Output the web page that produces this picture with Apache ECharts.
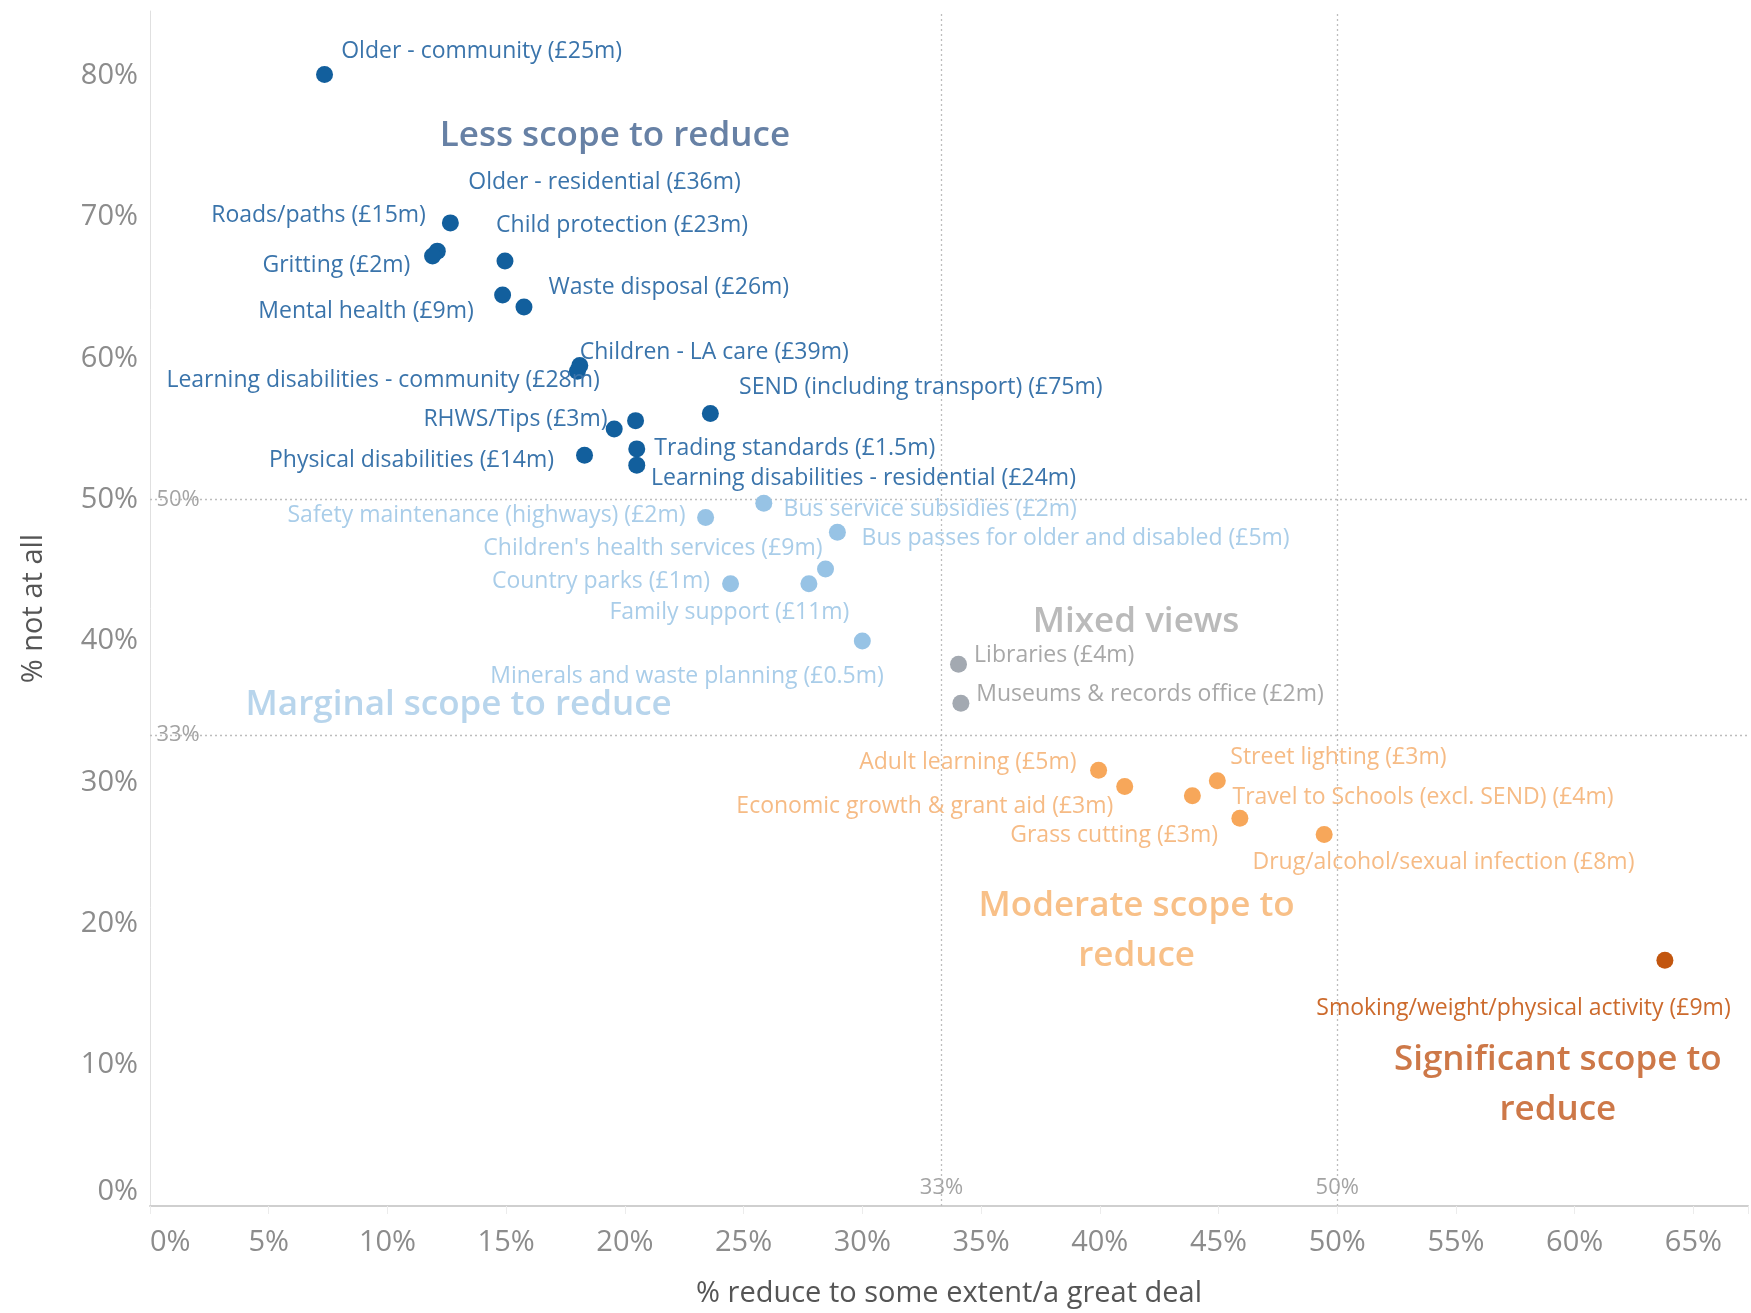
<!DOCTYPE html>
<html>
<head>
<meta charset="utf-8">
<script src="https://cdn.jsdelivr.net/npm/echarts/dist/echarts.min.js"></script>
<style>
html,body{margin:0;padding:0;background:#fff;}
#chart{width:1751px;height:1313px;}
</style>
</head>
<body>
<div id="chart"></div>
<script>
// ---------------- DATA ----------------
// Less scope to reduce (dark blue)
const lessNames = ['Older - community (£25m)', 'Older - residential (£36m)', 'Roads/paths (£15m)', 'Child protection (£23m)',
  'Gritting (£2m)', 'Waste disposal (£26m)', 'Mental health (£9m)', 'Children - LA care (£39m)',
  'Learning disabilities - community (£28m)', 'SEND (including transport) (£75m)', 'RHWS/Tips (£3m)', '',
  'Trading standards (£1.5m)', 'Physical disabilities (£14m)', 'Learning disabilities - residential (£24m)'];
const lessX = [7.35, 12.1, 12.65, 14.95, 11.9, 15.75, 14.85, 18.1, 18.0, 23.6, 19.55, 20.45, 20.5, 18.3, 20.5];
const lessY = [80.1, 67.6, 69.6, 66.9, 67.25, 63.65, 64.5, 59.5, 59.1, 56.1, 55.0, 55.6, 53.6, 53.15, 52.45];

// Marginal scope to reduce (light blue)
const margNames = ['Safety maintenance (highways) (£2m)', 'Bus service subsidies (£2m)', "Children's health services (£9m)",
  'Bus passes for older and disabled (£5m)', 'Country parks (£1m)', 'Family support (£11m)', 'Minerals and waste planning (£0.5m)'];
const margX = [23.4, 25.85, 28.45, 28.95, 24.45, 27.75, 30.0];
const margY = [48.75, 49.75, 45.1, 47.7, 44.05, 44.05, 40.0];

// Mixed views (grey)
const mixNames = ['Libraries (£4m)', 'Museums & records office (£2m)'];
const mixX = [34.05, 34.15];
const mixY = [38.35, 35.6];

// Moderate scope to reduce (orange)
const modNames = ['Adult learning (£5m)', 'Economic growth & grant aid (£3m)', 'Street lighting (£3m)',
  'Travel to Schools (excl. SEND) (£4m)', 'Grass cutting (£3m)', 'Drug/alcohol/sexual infection (£8m)'];
const modX = [39.95, 41.05, 44.95, 45.9, 43.9, 49.45];
const modY = [30.85, 29.7, 30.1, 27.45, 29.05, 26.3];

// Significant scope to reduce (dark orange)
const sigNames = ['Smoking/weight/physical activity (£9m)'];
const sigX = [63.8];
const sigY = [17.4];

// Group annotations
const annoText = ['Less scope to reduce', 'Marginal scope to reduce', 'Mixed views', 'Moderate scope to\nreduce', 'Significant scope to\nreduce'];
const annoX = [19.58, 13.0, 41.53, 41.55, 59.29];
const annoY = [75.78, 35.44, 41.36, 19.5, 8.57];

// Reference lines
const refLines = [33.333, 50];
const refLabels = ['33%', '50%'];

// Axis ticks
const xTickStep = 5;
const yTickStep = 10;

// ---------------- LAYOUT (label placement, px) ----------------
const labelLayout = {
  'Older - community (£25m)': ['left', 16.7, -23.4],
  'Older - residential (£36m)': ['left', 31, -68.8],
  'Roads/paths (£15m)': ['right', -24.5, -7],
  'Child protection (£23m)': ['left', -8.9, -35.1],
  'Gritting (£2m)': ['right', -22.2, 8.9],
  'Waste disposal (£26m)': ['left', 24.5, -19.9],
  'Mental health (£9m)': ['right', -28.8, 16.8],
  'Children - LA care (£39m)': ['left', 0, -13],
  'Learning disabilities - community (£28m)': ['right', 22.4, 9.4],
  'SEND (including transport) (£75m)': ['left', 28.7, -26.4],
  'RHWS/Tips (£3m)': ['right', -6.7, -9.6],
  'Trading standards (£1.5m)': ['left', 17.6, 0],
  'Physical disabilities (£14m)': ['right', -30.5, 5.5],
  'Learning disabilities - residential (£24m)': ['left', 14.2, 13.4],
  'Safety maintenance (highways) (£2m)': ['right', -20.1, -2.2],
  'Bus service subsidies (£2m)': ['left', 19.8, 6.4],
  "Children's health services (£9m)": ['right', -3, -20.5],
  'Bus passes for older and disabled (£5m)': ['left', 24.2, 6.4],
  'Country parks (£1m)': ['right', -20.6, -1.9],
  'Family support (£11m)': ['right', 40.5, 28.3],
  'Minerals and waste planning (£0.5m)': ['right', 21.5, 35.7],
  'Libraries (£4m)': ['left', 15.6, -9],
  'Museums & records office (£2m)': ['left', 15.4, -8.9],
  'Adult learning (£5m)': ['right', -22.1, -8.1],
  'Economic growth & grant aid (£3m)': ['right', -11.4, 20.3],
  'Street lighting (£3m)': ['left', 13, -23.2],
  'Travel to Schools (excl. SEND) (£4m)': ['left', -7.4, -20.6],
  'Grass cutting (£3m)': ['right', 25.7, 40],
  'Drug/alcohol/sexual infection (£8m)': ['left', -71.7, 27.8],
  'Smoking/weight/physical activity (£9m)': ['right', 65.8, 47.9]
};

const FONT = 'Open Sans';
const SYM = 17;
const annoColors = ['#41628f', '#a6cae7', '#a9a9a9', '#f6b06a', '#c0561a'];

function pointSeries(names, xs, ys, dotColor, textColor) {
  return {
    type: 'scatter',
    symbolSize: SYM,
    z: 5,
    itemStyle: { color: dotColor, opacity: 1 },
    emphasis: { disabled: true },
    label: { show: true, formatter: '{b}', color: textColor, fontSize: 23, fontFamily: FONT },
    data: names.map(function (n, i) {
      const lay = labelLayout[n];
      return {
        name: n,
        value: [xs[i], ys[i]],
        label: lay ? { show: true, position: [SYM / 2 + lay[1], SYM / 2 + lay[2]], align: lay[0], verticalAlign: 'middle' } : { show: false }
      };
    })
  };
}

function tickFmt(step) {
  return function (v) {
    const r = v / step;
    return Math.abs(r - Math.round(r)) < 1e-6 ? Math.round(v) + '%' : '';
  };
}

const chart = echarts.init(document.getElementById('chart'), null, { renderer: 'canvas' });

const option = {
  animation: false,
  backgroundColor: '#ffffff',
  grid: { left: 150, right: 0, top: 11, bottom: 102 },
  xAxis: {
    type: 'value', min: 0, max: 67.3, interval: xTickStep,
    axisLine: { show: true, lineStyle: { color: '#cfcfcf', width: 2 } },
    axisTick: { show: true, length: 8, lineStyle: { color: '#ececec' } },
    splitLine: { show: false },
    axisLabel: { formatter: tickFmt(xTickStep), color: '#8c8c8c', fontSize: 29, fontFamily: FONT, margin: 22, alignMinLabel: 'left' },
    name: '% reduce to some extent/a great deal', nameLocation: 'middle', nameGap: 73,
    nameTextStyle: { color: '#555555', fontSize: 29, fontFamily: FONT }
  },
  yAxis: {
    type: 'value', min: 0, max: 84.6, interval: yTickStep,
    axisLine: { show: true, lineStyle: { color: '#e0e0e0', width: 1 } },
    axisTick: { show: false },
    splitLine: { show: false },
    axisLabel: { formatter: tickFmt(yTickStep), color: '#8c8c8c', fontSize: 29, fontFamily: FONT, margin: 12, verticalAlignMinLabel: 'bottom' },
    name: '% not at all', nameLocation: 'middle', nameGap: 102,
    nameTextStyle: { color: '#555555', fontSize: 29, fontFamily: FONT }
  },
  series: [
    {
      type: 'scatter', data: [], silent: true,
      markLine: {
        silent: true, symbol: 'none', animation: false,
        lineStyle: { type: [2, 3], color: '#bdbdbd', width: 1.3 },
        label: { show: false },
        data: refLines.map(function (v) { return { xAxis: v }; }).concat(refLines.map(function (v) { return { yAxis: v }; }))
      }
    },
    {
      type: 'scatter', silent: true, symbolSize: 0, z: 4,
      itemStyle: { color: 'transparent' },
      label: { show: true, formatter: '{b}', color: '#8c8c8c', fontSize: 22, fontFamily: FONT, position: 'inside', verticalAlign: 'middle' },
      data: refLines.map(function (v, i) { return { name: refLabels[i], value: [0.27, v], label: { align: 'left', backgroundColor: '#ffffff', padding: [0, 3, 0, 0] } }; })
        .concat(refLines.map(function (v, i) { return { name: refLabels[i], value: [v, 1.26], label: { align: 'center' } }; }))
    },
    pointSeries(lessNames, lessX, lessY, '#125f9d', '#3a74ab'),
    pointSeries(margNames, margX, margY, '#97c3e5', '#a9cde9'),
    pointSeries(mixNames, mixX, mixY, '#a3a9b1', '#a8a8a8'),
    pointSeries(modNames, modX, modY, '#f7a75a', '#f6bb85'),
    pointSeries(sigNames, sigX, sigY, '#c2560f', '#cc6a2c'),
    {
      type: 'scatter', silent: true, symbolSize: 0, z: 6,
      itemStyle: { color: 'transparent' },
      label: { show: true, formatter: '{b}', fontSize: 35, fontWeight: 600, fontFamily: FONT, position: 'inside', align: 'center', verticalAlign: 'middle', lineHeight: 50 },
      data: annoText.map(function (t, i) { return { name: t, value: [annoX[i], annoY[i]], label: { color: annoColors[i] } }; })
    }
  ]
};

chart.setOption(option);
</script>
</body>
</html>
